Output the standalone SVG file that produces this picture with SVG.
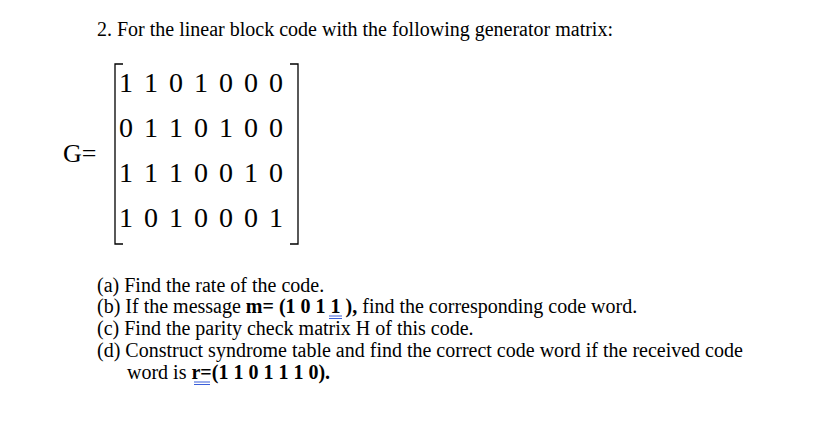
<svg xmlns="http://www.w3.org/2000/svg" width="815" height="421" viewBox="0 0 815 421">
<style>
text{font-family:"Liberation Serif","Times New Roman",serif;fill:#000}
.t{font-size:20px}
.m{font-size:28px;letter-spacing:2px}
.b{fill:none;stroke:#000;stroke-width:1.3}
.u{stroke:#3b5fd9;stroke-width:1}
</style>
<rect width="815" height="421" fill="#fff"/>
<text class="t" x="97" y="36">2. For the linear block code with the following generator matrix:</text>
<g id="matrix">
<text x="63" y="162" font-size="26">G=</text>
<path class="b" d="M123,64 H115 V244 H123"/>
<path class="b" d="M290,64 H298 V244 H290"/>
<text class="m" x="119" y="92">1 1 0 1 0 0 0</text>
<text class="m" x="119" y="137">0 1 1 0 1 0 0</text>
<text class="m" x="119" y="182">1 1 1 0 0 1 0</text>
<text class="m" x="119" y="227">1 0 1 0 0 0 1</text>
</g>
<g id="questions">
<text class="t" x="97" y="292">(a) Find the rate of the code.</text>
<text class="t" x="97" y="313">(b) If the message <tspan font-weight="bold">m= (1 0 1 1 ),</tspan> find the corresponding code word.</text>
<text class="t" x="97" y="335">(c) Find the parity check matrix H of this code.</text>
<text class="t" x="97" y="357">(d) Construct syndrome table and find the correct code word if the received code</text>
<text class="t" x="127" y="379">word is <tspan font-weight="bold">r=(1 1 0 1 1 1 0).</tspan></text>
</g>
<g id="marks">
<line class="u" x1="329" y1="316" x2="342" y2="316"/><line class="u" x1="329" y1="318.5" x2="342" y2="318.5"/>
<line class="u" x1="194" y1="382" x2="210" y2="382"/><line class="u" x1="194" y1="384.5" x2="210" y2="384.5"/>
</g>
</svg>
